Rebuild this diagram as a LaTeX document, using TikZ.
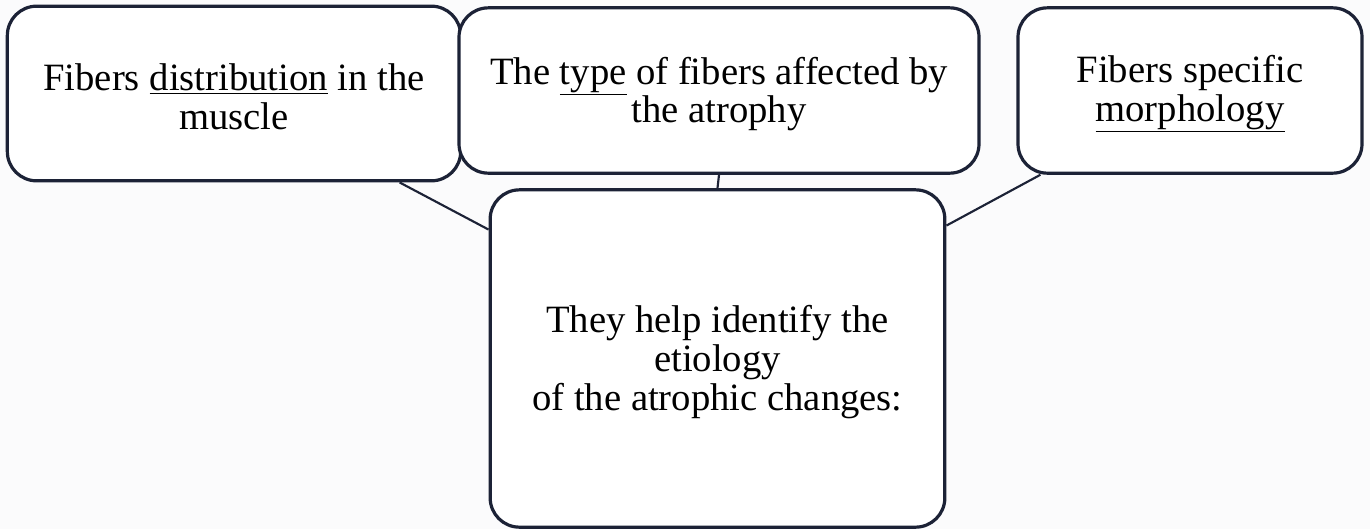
\documentclass[tikz,border=0pt]{standalone}
\usepackage{fontspec}
\setmainfont{Liberation Serif}
\usetikzlibrary{calc}
\definecolor{edge}{RGB}{28,34,54}
\definecolor{bg}{RGB}{251,251,252}
\tikzset{
  box/.style={draw=edge, line width=2.4pt, fill=white, rounded corners=22pt, inner sep=0pt},
  txt/.style={align=center, font=\fontsize{29}{29}\selectfont, inner sep=0pt},
  link/.style={draw=edge, line width=1.6pt}
}
\begin{document}
\begin{tikzpicture}[x=0.75pt,y=-0.75pt]
\fill[bg] (0,0) rectangle (1370,529);
\useasboundingbox (0,0) rectangle (1370,529);
\node[box, minimum width=340pt, minimum height=131pt] (b1) at (234,93.5) {};
\node[txt] (t1) at (234,97) {Fibers \underline{distribution} in the\\muscle};
\node[box, minimum width=390pt, minimum height=124pt] (b2) at (719,90.5) {};
\node[txt] (t2) at (719,94) {The \underline{type} of fibers affected by\\the atrophy};
\node[box, minimum width=258pt, minimum height=124pt] (b3) at (1190,90.5) {};
\node[txt] (t3) at (1190,94) {Fibers specific\\\underline{morphology}};
\node[box, minimum width=341pt, minimum height=253pt] (c) at (717.5,358.5) {};
\node[txt] (tc) at (717.5,362) {They help identify the\\etiology\\of the atrophic changes:};
\draw[link] ([xshift=-47pt]b1.south east) -- ([yshift=-31pt]c.north west);
\draw[link] (b2.south) -- (c.north);
\draw[link] ([xshift=18pt]b3.south west) -- ([yshift=-28pt]c.north east);
\end{tikzpicture}
\end{document}
